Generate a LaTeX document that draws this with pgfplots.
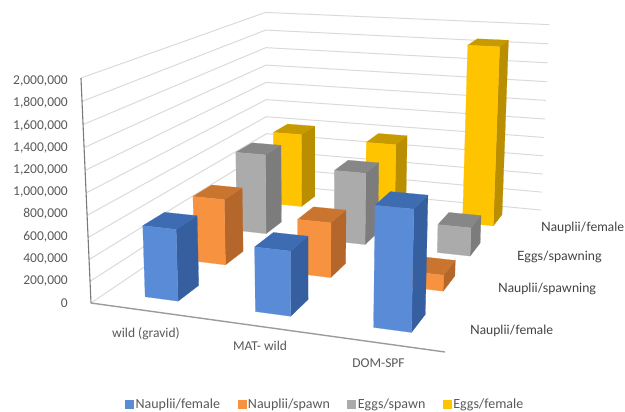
\documentclass[border=0pt]{standalone}
\usepackage{fontspec}
\setmainfont{Carlito}
\newfontfamily\serieslabel{Lato}
\usepackage{pgfplots}
\pgfplotsset{compat=1.18}

% Colours: front, side and top face of each series
\definecolor{blueF}{HTML}{5A8BD6}\definecolor{blueS}{HTML}{355F9E}\definecolor{blueT}{HTML}{3D6CB3}
\definecolor{orangeF}{HTML}{F69240}\definecolor{orangeS}{HTML}{B5672B}\definecolor{orangeT}{HTML}{C97530}
\definecolor{grayF}{HTML}{ABABAB}\definecolor{grayS}{HTML}{7C7C7C}\definecolor{grayT}{HTML}{878787}
\definecolor{yellowF}{HTML}{FFC400}\definecolor{yellowS}{HTML}{B98E00}\definecolor{yellowT}{HTML}{C79A00}
\definecolor{tickgray}{HTML}{595959}
\definecolor{gridgray}{HTML}{DADADA}

% Perspective projection of the chart box: u along the categories,
% v along the series, w up the value axis (all from 0 to 1)
\pgfmathdeclarefunction{px}{3}{%
  \pgfmathparse{(308.7*#1+263.5*#2-13.5*#3+91)/(1-0.1017*#1+0.3276*#2-0.043*#3)}}
\pgfmathdeclarefunction{py}{3}{%
  \pgfmathparse{(13.2*#1-58.7*#2-228.35*#3+303)/(1-0.1017*#1+0.3276*#2-0.043*#3)}}

% One face of a bar. #1 category index, #2 series index, #3 value in thousands,
% #4 fill colour, #5 table of corners (s,t across the cell, h 0 or 1 up the bar)
\newcommand{\BarFace}[5]{%
  \addplot[fill=#4,draw=#4,line width=0.2pt,forget plot,line join=round] table[row sep=\\,
    x expr={px((#1+0.5)/3+0.003+\thisrow{s}*0.051,(#2+0.5)/4+\thisrow{t}*0.052,\thisrow{h}*#3/2000)},
    y expr={py((#1+0.5)/3+0.003+\thisrow{s}*0.051,(#2+0.5)/4+\thisrow{t}*0.052,\thisrow{h}*#3/2000)}]
    {#5};}
% A whole bar: side, top and front
\newcommand{\ThreeDBar}[4]{%
  \BarFace{#1}{#2}{#3}{#4S}{s t h\\ 1 -1 0\\ 1 1 0\\ 1 1 1\\ 1 -1 1\\ 1 -1 0\\}%
  \BarFace{#1}{#2}{#3}{#4T}{s t h\\ -1 -1 1\\ 1 -1 1\\ 1 1 1\\ -1 1 1\\ -1 -1 1\\}%
  \BarFace{#1}{#2}{#3}{#4F}{s t h\\ -1 -1 0\\ 1 -1 0\\ 1 -1 1\\ -1 -1 1\\ -1 -1 0\\}}
% Gridline round the left and back walls at a value in thousands
\newcommand{\WallLine}[1]{%
  \addplot[gridgray,line width=1pt,forget plot] table[row sep=\\,
    x expr={px(\thisrow{u},\thisrow{v},#1/2000)},
    y expr={py(\thisrow{u},\thisrow{v},#1/2000)}]
    {u v\\ 0 0\\ 0 1\\ 1 1\\};}

\begin{document}
\begin{tikzpicture}
\begin{axis}[
  scale only axis, width=625pt, height=412pt,
  xmin=0, xmax=625, ymin=0, ymax=412, y dir=reverse,
  hide axis, clip=false,
  legend cell align=left,
  legend columns=4,
  legend style={at={(axis cs:125,404.5)},anchor=west,draw=none,fill=none,inner sep=0pt,
    font=\fontsize{14}{15}\selectfont\color{tickgray},
    nodes={inner xsep=2pt,inner ysep=0pt},
    /tikz/every even column/.append style={column sep=15.5pt}},
]
% The full page area
\path (axis cs:0,0) rectangle (axis cs:625,412);

% Walls
\pgfplotsinvokeforeach{0,200,400,600,800,1000,1200,1400,1600,1800,2000}{\WallLine{#1}}

% Value axis and front floor edge
\addplot[color=tickgray!80,line width=1.1pt,forget plot] table[row sep=\\,
  x expr={px(0,0,\thisrow{w})},y expr={py(0,0,\thisrow{w})}] {w\\ 0\\ 1\\};
\addplot[color=tickgray!60,line width=1.4pt,forget plot] table[row sep=\\,
  x expr={px(\thisrow{u},0,0)},y expr={py(\thisrow{u},0,0)}] {u\\ 0\\ 1\\};

% Bars from the back row to the front, values in thousands
\ThreeDBar{0}{3}{806}{yellow}
\ThreeDBar{1}{3}{778}{yellow}
\ThreeDBar{2}{3}{1866}{yellow}
\ThreeDBar{0}{2}{828}{gray}
\ThreeDBar{1}{2}{730}{gray}
\ThreeDBar{2}{2}{283}{gray}
\ThreeDBar{0}{1}{643}{orange}
\ThreeDBar{1}{1}{525}{orange}
\ThreeDBar{2}{1}{150}{orange}
\ThreeDBar{0}{0}{658}{blue}
\ThreeDBar{1}{0}{580}{blue}
\ThreeDBar{2}{0}{1050}{blue}

% Legend
\addlegendimage{legend image code/.code={\fill[blueF] (0pt,-3.5pt) rectangle (8pt,4pt);}}
\addlegendentry{Nauplii/female}
\addlegendimage{legend image code/.code={\fill[orangeF] (0pt,-3.5pt) rectangle (8pt,4pt);}}
\addlegendentry{Nauplii/spawn}
\addlegendimage{legend image code/.code={\fill[grayF] (0pt,-3.5pt) rectangle (8pt,4pt);}}
\addlegendentry{Eggs/spawn}
\addlegendimage{legend image code/.code={\fill[yellowF] (0pt,-3.5pt) rectangle (8pt,4pt);}}
\addlegendentry{Eggs/female}

% Value labels
\foreach \lab/\ypos in {2{,}000{,}000/81,1{,}800{,}000/103.2,1{,}600{,}000/125.4,1{,}400{,}000/147.6,1{,}200{,}000/169.8,1{,}000{,}000/192,800{,}000/214.2,600{,}000/236.4,400{,}000/258.6,200{,}000/280.8,0/303.5}
  {\edef\temp{\noexpand\node[anchor=east,inner xsep=0pt,text=tickgray,font=\noexpand\fontsize{13.5}{15}\noexpand\selectfont] at (axis cs:68,\ypos) {\lab};}\temp}

% Category labels
\node[text=tickgray,font=\fontsize{13.5}{15}\selectfont] at (axis cs:146,333.5) {wild (gravid)};
\node[text=tickgray,font=\fontsize{13.5}{15}\selectfont] at (axis cs:260,346) {MAT- wild};
\node[text=tickgray,font=\fontsize{13.5}{15}\selectfont] at (axis cs:378.5,363) {DOM-SPF};

% Series labels along the depth axis
\node[anchor=west,inner xsep=0pt,text=black!75,font=\serieslabel\fontsize{12.8}{14}\selectfont] at (axis cs:470,331) {Nauplii/female};
\node[anchor=west,inner xsep=0pt,text=black!75,font=\serieslabel\fontsize{12.8}{14}\selectfont] at (axis cs:498,289) {Nauplii/spawning};
\node[anchor=west,inner xsep=0pt,text=black!75,font=\serieslabel\fontsize{12.8}{14}\selectfont] at (axis cs:517,257) {Eggs/spawning};
\node[anchor=west,inner xsep=0pt,text=black!75,font=\serieslabel\fontsize{12.8}{14}\selectfont] at (axis cs:541,228) {Nauplii/female};
\end{axis}
\end{tikzpicture}
\end{document}
